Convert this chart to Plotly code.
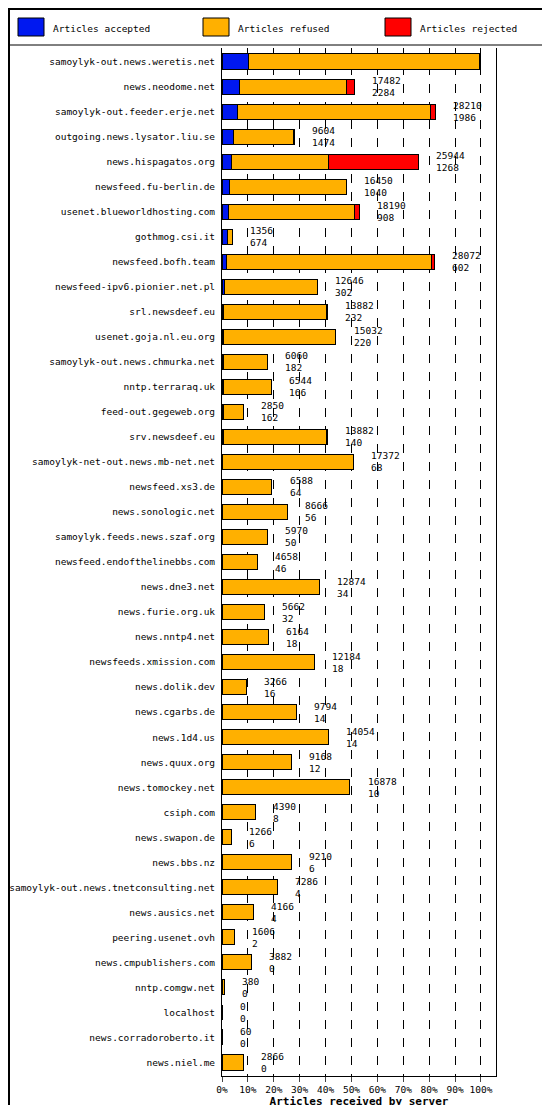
import plotly.graph_objects as go

servers = ["samoylyk-out.news.weretis.net","news.neodome.net","samoylyk-out.feeder.erje.net",
"outgoing.news.lysator.liu.se","news.hispagatos.org","newsfeed.fu-berlin.de","usenet.blueworldhosting.com",
"gothmog.csi.it","newsfeed.bofh.team","newsfeed-ipv6.pionier.net.pl","srl.newsdeef.eu","usenet.goja.nl.eu.org",
"samoylyk-out.news.chmurka.net","nntp.terraraq.uk","feed-out.gegeweb.org","srv.newsdeef.eu",
"samoylyk-net-out.news.mb-net.net","newsfeed.xs3.de","news.sonologic.net","samoylyk.feeds.news.szaf.org",
"newsfeed.endofthelinebbs.com","news.dne3.net","news.furie.org.uk","news.nntp4.net","newsfeeds.xmission.com",
"news.dolik.dev","news.cgarbs.de","news.1d4.us","news.quux.org","news.tomockey.net","csiph.com",
"news.swapon.de","news.bbs.nz","samoylyk-out.news.tnetconsulting.net","news.ausics.net","peering.usenet.ovh",
"news.cmpublishers.com","nntp.comgw.net","localhost","news.corradoroberto.it","news.niel.me"]
total = [34152,17482,28210,9604,25944,16450,18190,1356,28072,12646,13882,15032,6060,6544,2850,13882,
17372,6588,8666,5970,4658,12874,5662,6164,12184,3266,9794,14054,9168,16878,4390,1266,9210,7286,4166,
1606,3882,380,0,60,2866]
accepted = [3552,2284,1986,1474,1268,1040,908,674,602,302,232,220,182,166,162,140,68,64,56,50,46,34,
32,18,18,16,14,14,12,10,8,6,6,4,4,2,0,0,0,0,0]
rejected = [200,1000,750,200,11950,0,700,0,400,0,50,0,0,0,0,100,0,0,0,0,0,0,0,0,0,0,0,0,0,0,0,0,0,0,0,
0,0,0,0,0,0]
refused = [t - a - r for t, a, r in zip(total, accepted, rejected)]
series_names = ["Articles accepted", "Articles refused", "Articles rejected"]
series_colors = ["#0018f0", "#ffb000", "#ff0000"]

mx = max(total)
pct = lambda v: [x / mx * 100 for x in v]
FONT = "DejaVu Sans Mono"

fig = go.Figure()
for name, vals, col in zip(series_names, [accepted, refused, rejected], series_colors):
    fig.add_trace(go.Bar(y=servers, x=pct(vals), name=name, orientation="h",
                         marker=dict(color=col, line=dict(color="black", width=1)),
                         width=0.6, showlegend=False))

for s, t, a in zip(servers, total, accepted):
    fig.add_annotation(x=t / mx * 100 + 6, y=s, text=f"{t}<br>{a}", showarrow=False,
                       xanchor="left", yanchor="middle", align="left",
                       font=dict(family=FONT, size=9.5, color="black"))

pw = 550 - 214 - 62
ph = 1105 - 40 - 37
px = lambda p: (p - 214) / pw
py = lambda p: 1 - (p - 40) / ph
fig.add_shape(type="rect", xref="paper", yref="paper",
              x0=px(1), x1=px(549), y0=py(1104), y1=py(1),
              line=dict(color="black", width=2))
fig.add_shape(type="line", xref="paper", yref="paper", x0=px(1), x1=px(549),
              y0=py(37), y1=py(37), line=dict(color="black", width=1))
for i, (name, col) in enumerate(zip(series_names, series_colors)):
    lx = [10, 195, 377][i]
    fig.add_shape(type="rect", xref="paper", yref="paper",
                  x0=px(lx), x1=px(lx + 26), y0=py(28), y1=py(10),
                  fillcolor=col, line=dict(color="black", width=1))
    fig.add_annotation(xref="paper", yref="paper", x=px(lx + 33), y=py(20), text=name,
                       showarrow=False, xanchor="left", yanchor="middle",
                       font=dict(family=FONT, size=9.5, color="black"))

fig.update_layout(
    width=550, height=1105, barmode="stack", bargap=0.4, showlegend=False,
    margin=dict(l=214, r=62, t=40, b=37, autoexpand=False),
    paper_bgcolor="white", plot_bgcolor="white",
    font=dict(family=FONT, size=9.5, color="black"),
    xaxis=dict(range=[0, 105.8], tickvals=list(range(0, 101, 10)),
               ticktext=[f"{v}%" for v in range(0, 101, 10)], automargin=False,
               showgrid=True, gridcolor="black", griddash="dash", gridwidth=1,
               zeroline=False, showline=True, linecolor="black", ticks="outside",
               title=dict(text="<b>Articles received by server</b>", standoff=2,
                          font=dict(family=FONT, size=11))),
    yaxis=dict(autorange="reversed", showline=True, linecolor="black", mirror=True,
               automargin=False, ticks="", ticklabelstandoff=4,
               tickfont=dict(family=FONT, size=9.5)),
)
fig.write_html("out.html")
